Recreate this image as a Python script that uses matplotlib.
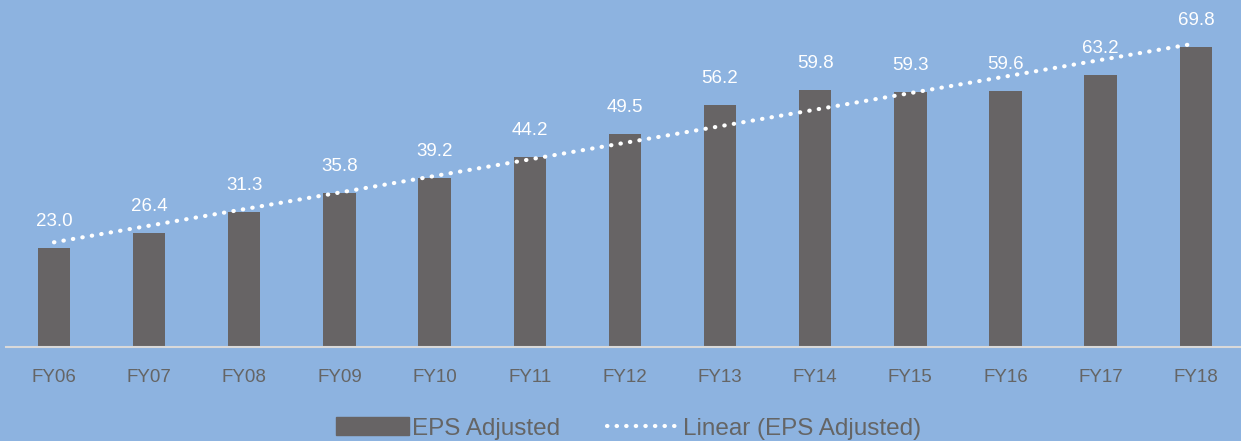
import numpy as np
from matplotlib import pyplot as plt
from matplotlib.lines import Line2D
from matplotlib.patches import Patch

years = ['FY06', 'FY07', 'FY08', 'FY09', 'FY10', 'FY11', 'FY12',
         'FY13', 'FY14', 'FY15', 'FY16', 'FY17', 'FY18']
eps = [23.0, 26.4, 31.3, 35.8, 39.2, 44.2, 49.5, 56.2, 59.8, 59.3, 59.6, 63.2, 69.8]

bg = '#8DB3E0'
bar_col = '#676465'
txt_col = '#656565'

plt.rcParams['font.family'] = ['Liberation Sans', 'DejaVu Sans']

fig = plt.figure(figsize=(12.41, 4.41), dpi=100, facecolor=bg)
ax = fig.add_axes([6.4 / 1241, 94 / 441, 1237 / 1241, 344 / 441])
ax.set_facecolor(bg)

x = np.arange(len(years))
ax.bar(x, eps, width=0.34, color=bar_col, zorder=2)

# linear trendline
k, b = np.polyfit(x, eps, 1)
ax.plot(x, k * x + b, color='white', linestyle=(0, (0.1, 2.2)), linewidth=3,
        dash_capstyle='round', zorder=3)

for xi, v in zip(x, eps):
    ax.annotate(f'{v:.1f}', (xi, v), xytext=(0, 13), textcoords='offset points',
                ha='center', va='bottom', color='white', fontsize=13.5)

ax.set_xlim(-0.5, len(years) - 0.5)
ax.set_ylim(0, 80)
ax.set_xticks(x)
ax.set_xticklabels(years, color=txt_col, fontsize=13.5)
ax.tick_params(axis='x', length=0, pad=16)
ax.set_yticks([])
for s in ['top', 'right', 'left']:
    ax.spines[s].set_visible(False)
ax.spines['bottom'].set_color('#D9D9D9')
ax.spines['bottom'].set_linewidth(1.5)

handles = [Patch(color=bar_col, label='EPS Adjusted'),
           Line2D([], [], color='white', linestyle=(0, (0.1, 2.2)), linewidth=3,
                  dash_capstyle='round', label='Linear (EPS Adjusted)')]
leg = fig.legend(handles=handles, loc='center', bbox_to_anchor=(0.5065, 0.028),
                 ncol=2, frameon=False, fontsize=17.5, handlelength=3.0,
                 handleheight=0.75, columnspacing=1.9, handletextpad=0.15)
for t in leg.get_texts():
    t.set_color(txt_col)

fig.savefig('out.png', dpi=100, facecolor=bg)
